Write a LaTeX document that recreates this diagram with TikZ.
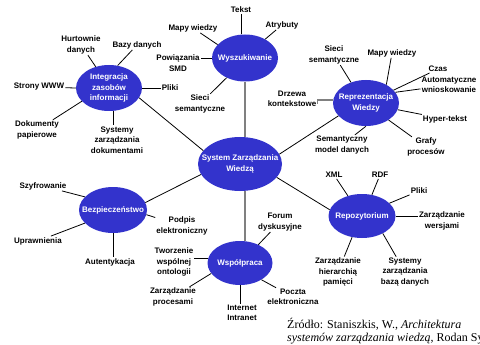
\documentclass[tikz,border=0pt]{standalone}
\usepackage{fontspec}
\setmainfont{Liberation Sans}
\newfontfamily\srcfont{Liberation Serif}
\usetikzlibrary{shapes.geometric}
\definecolor{hubblue}{RGB}{51,51,204}
\tikzset{hub/.style={ellipse,fill=hubblue,inner sep=0pt},
  hubtext/.style={text=white,font=\bfseries\fontsize{8}{10.5}\selectfont,align=center,inner sep=0pt},
  leaf/.style={font=\bfseries\fontsize{8}{10.5}\selectfont,align=center,inner sep=1pt},
  link/.style={black,line width=0.8pt},
  greylink/.style={gray,line width=1.4pt}}

\begin{document}
\begin{tikzpicture}[x=1pt,y=-1pt]
        \useasboundingbox (0,0) rectangle (480,345);
        % hubs
        \node[hub,minimum width=84pt,minimum height=54pt,label={[hubtext]center:System Zarządzania\\Wiedzą}] (szw) at (240,164) {};
        \node[hub,minimum width=66pt,minimum height=46pt,label={[hubtext]center:Integracja\\zasobów\\informacji}] (integ) at (109,88) {};
        \node[hub,minimum width=66pt,minimum height=47pt,label={[hubtext]center:Wyszukiwanie}] (wysz) at (245,58) {};
        \node[hub,minimum width=66pt,minimum height=46pt,label={[hubtext]center:Reprezentacja\\Wiedzy}] (repr) at (366,103) {};
        \node[hub,minimum width=68pt,minimum height=46pt,label={[hubtext]center:Bezpieczeństwo}] (bezp) at (113,210) {};
        \node[hub,minimum width=67pt,minimum height=44pt,label={[hubtext]center:Repozytorium}] (repo) at (362,216) {};
        \node[hub,minimum width=65pt,minimum height=44pt,label={[hubtext]center:Współpraca}] (wsp) at (240,263) {};
        \draw[link] (szw.160) -- (integ.342);
        \draw[greylink] (wysz.south) -- (szw.north -| wysz.south);
        \draw[link] (szw.14) -- (repr.205);
        \draw[link] (szw.195) -- (bezp.13);
        \draw[link] (szw.340) -- (repo.169);
        \draw[greylink] (szw.south -| wysz.south) -- (wsp.north -| wysz.south);
        % Integracja
        \node[leaf] (hurt) at (81,45) {Hurtownie\\danych};
        \node[leaf] (bazy) at (137,45) {Bazy danych};
        \node[leaf] (strony) at (39,87) {Strony WWW};
        \node[leaf] (pliki1) at (170,88) {Pliki};
        \node[leaf] (dok) at (37,130) {Dokumenty\\papierowe};
        \node[leaf] (sysdok) at (117,140) {Systemy\\zarządzania\\dokumentami};
        \draw[link] (integ.122) -- (hurt);
        \draw[link] (integ.69) -- (bazy);
        \draw[link] (integ.west) -- (strony);
        \draw[link] (integ.east) -- (pliki1);
        \draw[link] (integ.206) -- (dok);
        \draw[link] (integ.282) -- (sysdok.north -| integ.282);
        % Wyszukiwanie
        \node[leaf] (tekst) at (241,10) {Tekst};
        \node[leaf] (atryb) at (282,25) {Atrybuty};
        \node[leaf] (mapy1) at (193,28) {Mapy wiedzy};
        \node[leaf] (powiaz) at (178,63) {Powiązania\\SMD};
        \node[leaf] (sieci1) at (200,104) {Sieci\\semantyczne};
        \draw[link] (wysz.north -| tekst) -- (tekst);
        \draw[link] (wysz.43) -- (atryb);
        \draw[link] (wysz.154) -- (mapy1);
        \draw[link] (wysz.west) -- (powiaz.east |- wysz.west);
        \draw[link] (wysz.227) -- (sieci1);
        % Reprezentacja
        \node[leaf] (sieci2) at (334,55) {Sieci\\semantyczne};
        \node[leaf] (mapy2) at (392,53) {Mapy wiedzy};
        \node[leaf] (czas) at (438,69) {Czas};
        \node[leaf] (autownio) at (449,85) {Automatyczne\\wnioskowanie};
        \node[leaf] (drzewa) at (292,99) {Drzewa\\kontekstowe};
        \node[leaf] (hyper) at (445,119) {Hyper-tekst};
        \node[leaf] (grafy) at (426,147) {Grafy\\procesów};
        \node[leaf] (semmod) at (342,145) {Semantyczny\\model danych};
        \draw[link] (repr.126) -- (sieci2);
        \draw[link] (repr.42) -- (mapy2);
        \draw[link] (repr.25) -- (czas);
        \draw[link] (repr.20) -- (autownio);
        \draw[greylink] (repr.175) -- (drzewa.east |- repr.175) -- ++(0,4);
        \draw[link] (repr.-12) -- (hyper);
        \draw[link] (repr.-37) -- (grafy);
        \draw[link] (repr.south) -- (semmod);
        % Bezpieczenstwo
        \node[leaf] (szyfr) at (43,186) {Szyfrowanie};
        \node[leaf] (upr) at (38,241) {Uprawnienia};
        \node[leaf] (autent) at (110,262) {Autentykacja};
        \node[leaf] (podpis) at (182,226) {Podpis\\elektroniczny};
        \draw[link] (bezp.155) -- (szyfr);
        \draw[link] (bezp.205) -- (upr);
        \draw[link] (bezp.south) -- (autent.north -| bezp.south);
        \draw[link] (bezp.-8) -- (podpis);
        % Repozytorium
        \node[leaf] (xml) at (334,175) {XML};
        \node[leaf] (rdf) at (380,175) {RDF};
        \node[leaf] (pliki2) at (419,191) {Pliki};
        \node[leaf] (zarwer) at (442,221) {Zarządzanie\\wersjami};
        \node[leaf] (zarhier) at (338,272) {Zarządzanie\\hierarchią\\pamięci};
        \node[leaf] (sysbaz) at (405,272) {Systemy\\zarządzania\\bazą danych};
        \draw[link] (repo.125) -- (xml);
        \draw[link] (repo.65) -- (rdf);
        \draw[link] (repo.25) -- (pliki2);
        \draw[link] (repo.east) -- (zarwer.west |- repo.east);
        \draw[link] (repo.245) -- (zarhier);
        \draw[link] (repo.-40) -- (sysbaz);
        % Wspolpraca
        \node[leaf] (forum) at (280,222) {Forum\\dyskusyjne};
        \node[leaf] (tworz) at (174,262) {Tworzenie\\wspólnej\\ontologii};
        \node[leaf] (zarproc) at (173,297) {Zarządzanie\\procesami};
        \node[leaf] (inet) at (242,313) {Internet\\Intranet};
        \node[leaf] (poczta) at (293,297) {Poczta\\elektroniczna};
        \draw[link] (wsp.45) -- (forum);
        \draw[link] (wsp.172) -- (tworz.east |- wsp.172);
        \draw[link] (wsp.200) -- (zarproc);
        \draw[link] (wsp.south) -- (inet.north -| wsp.south);
        \draw[link] (wsp.-38) -- (poczta);
        % source
        \node[anchor=north west,align=left,inner sep=0pt,font=\srcfont\fontsize{12}{13}\selectfont] (src) at (287,318)
          {Źródło: Staniszkis, W., \textit{Architektura}\\\textit{systemów zarządzania wiedzą}, Rodan System};
\end{tikzpicture}
\end{document}
